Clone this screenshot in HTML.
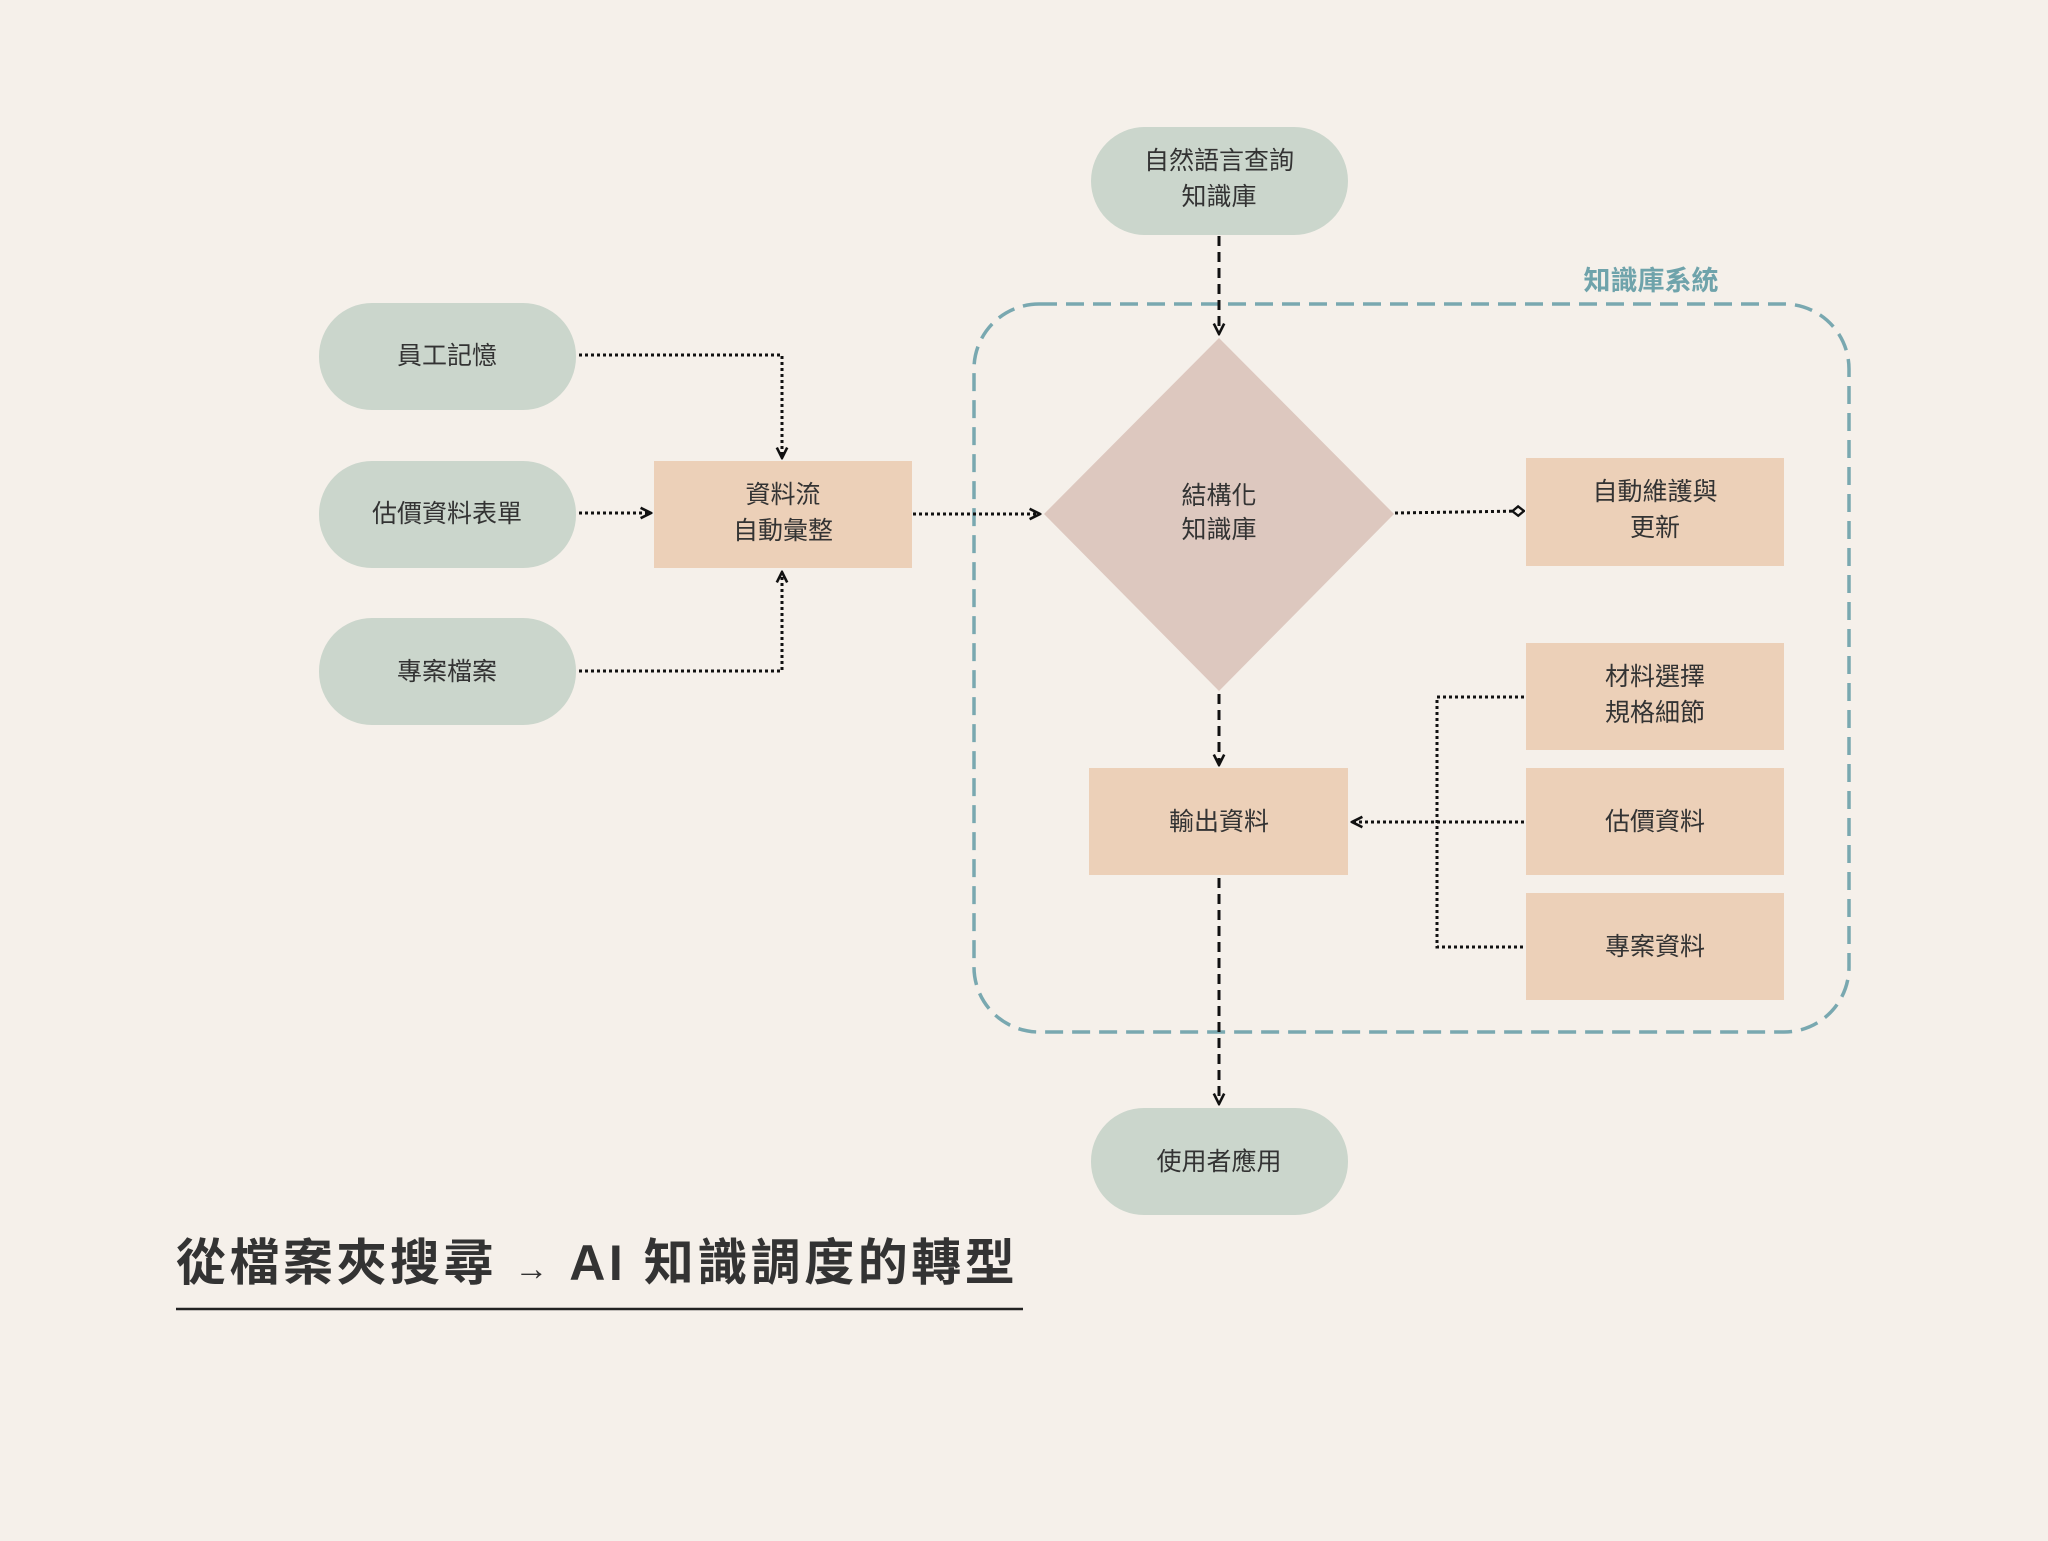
<!DOCTYPE html>
<html><head><meta charset="utf-8"><style>
html,body{margin:0;padding:0;background:#f5f0ea;}
svg text{font-family:"Liberation Sans","Noto Sans CJK TC",sans-serif;}
</style></head><body>
<svg width="2048" height="1536" viewBox="0 0 2048 1536" xmlns="http://www.w3.org/2000/svg">
<rect width="2048" height="1536" fill="#f5f0ea"/>
<defs>
<marker id="ar" viewBox="0 0 10 10" refX="9" refY="5" markerWidth="13" markerHeight="13" markerUnits="userSpaceOnUse" orient="auto"><path d="M1,1 L9,5 L1,9" fill="none" stroke="#111" stroke-width="2"/></marker>
<marker id="dm" viewBox="0 0 12 12" refX="11" refY="6" markerWidth="14" markerHeight="14" markerUnits="userSpaceOnUse" orient="auto"><path d="M1,6 L6,2 L11,6 L6,10 Z" fill="#f5f0ea" stroke="#111" stroke-width="2"/></marker>
</defs>
<rect x="974" y="304" width="875" height="728" rx="65" fill="none" stroke="#79a8b0" stroke-width="3.5" stroke-dasharray="18,9"/>
<text x="1651" y="290" font-size="27" font-weight="bold" fill="#6fa3ab" text-anchor="middle">知識庫系統</text>
<g fill="#cbd6cc">
<rect x="1091" y="127" width="257" height="108" rx="54"/>
<rect x="319" y="303" width="257" height="107" rx="53"/>
<rect x="319" y="461" width="257" height="107" rx="53"/>
<rect x="319" y="618" width="257" height="107" rx="53"/>
<rect x="1091" y="1108" width="257" height="107" rx="53"/>
</g>
<g fill="#ecd0b8">
<rect x="654" y="461" width="258" height="107"/>
<rect x="1526" y="458" width="258" height="108"/>
<rect x="1526" y="643" width="258" height="107"/>
<rect x="1526" y="768" width="258" height="107"/>
<rect x="1526" y="893" width="258" height="107"/>
<rect x="1089" y="768" width="259" height="107"/>
</g>
<polygon points="1219,338 1394,514 1219,691 1044,514" fill="#ddc8bf"/>
<g fill="none" stroke="#111" stroke-width="3">
<path d="M579,355 H782 V458" stroke-dasharray="3,3" marker-end="url(#ar)"/>
<path d="M579,513 H651" stroke-dasharray="3,3" marker-end="url(#ar)"/>
<path d="M579,671 H782 V572" stroke-dasharray="3,3" marker-end="url(#ar)"/>
<path d="M913,514 H1040" stroke-dasharray="3,3" marker-end="url(#ar)"/>
<path d="M1395,513 L1524,511" stroke-dasharray="3,3" marker-end="url(#dm)"/>
<path d="M1524,697 H1437 V947 H1524" stroke-dasharray="3,3"/>
<path d="M1524,822 H1352" stroke-dasharray="3,3" marker-end="url(#ar)"/>
<path d="M1219,236 V334" stroke-dasharray="10,6" marker-end="url(#ar)"/>
<path d="M1219,694 V765" stroke-dasharray="10,6" marker-end="url(#ar)"/>
<path d="M1219,878 V1104" stroke-dasharray="10,6" marker-end="url(#ar)"/>
</g>
<g font-size="25" fill="#333" text-anchor="middle">
<text x="1219" y="169">自然語言查詢</text><text x="1219" y="205">知識庫</text>
<text x="447" y="364">員工記憶</text>
<text x="447" y="522">估價資料表單</text>
<text x="447" y="680">專案檔案</text>
<text x="783" y="503">資料流</text><text x="783" y="539">自動彙整</text>
<text x="1219" y="504">結構化</text><text x="1219" y="538">知識庫</text>
<text x="1655" y="500">自動維護與</text><text x="1655" y="536">更新</text>
<text x="1655" y="685">材料選擇</text><text x="1655" y="721">規格細節</text>
<text x="1655" y="830">估價資料</text>
<text x="1655" y="955">專案資料</text>
<text x="1219" y="830">輸出資料</text>
<text x="1219" y="1170">使用者應用</text>
</g>
<text x="176" y="1280" font-size="50" font-weight="bold" fill="#333" letter-spacing="3.5">從檔案夾搜尋 <tspan font-size="34">→</tspan> AI 知識調度的轉型</text>
<line x1="176" y1="1309" x2="1023" y2="1309" stroke="#222" stroke-width="2.5"/>
</svg>
</body></html>
